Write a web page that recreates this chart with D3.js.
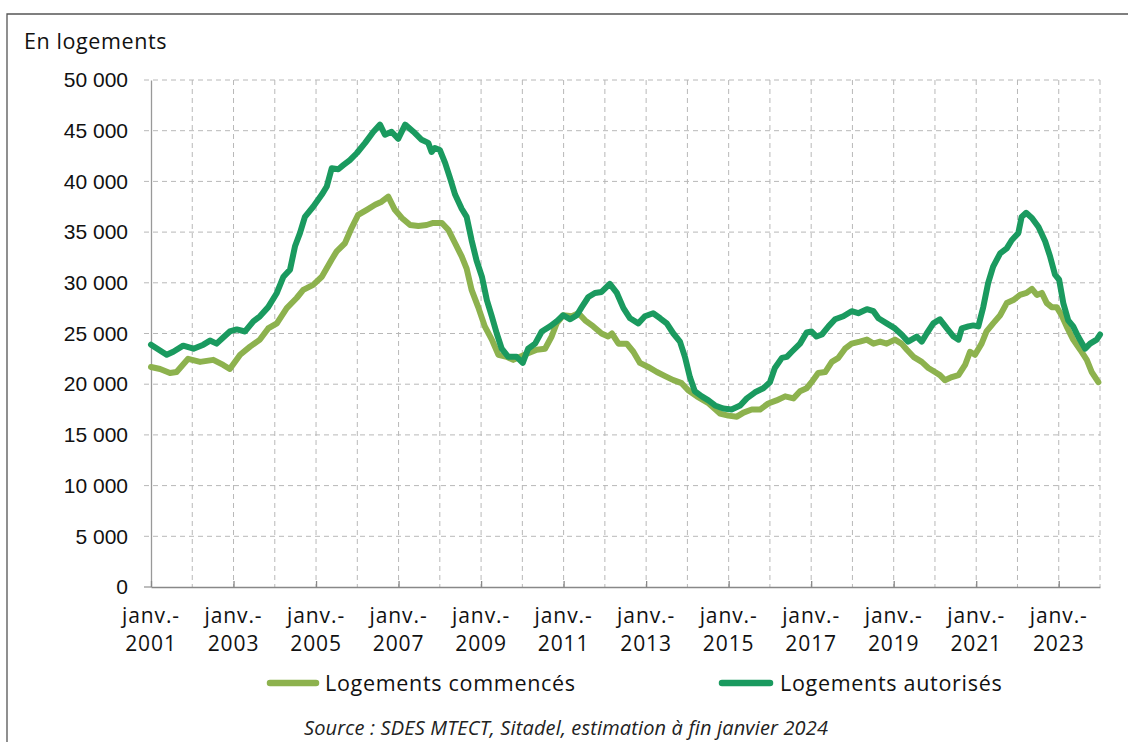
<!DOCTYPE html>
<html><head><meta charset="utf-8">
<script src="https://cdn.jsdelivr.net/npm/d3@7"></script>
<style>
html,body{margin:0;padding:0;background:#fff;}
svg{display:block;}
</style></head>
<body>
<svg id="chart" width="1128" height="742"></svg>
<script>
const yTicks = [0,5000,10000,15000,20000,25000,30000,35000,40000,45000,50000];
const xLabelYears = [2001,2003,2005,2007,2009,2011,2013,2015,2017,2019,2021,2023];
const seriesNames = ["Logements commencés","Logements autorisés"];
const seriesColors = ["#8db24e","#1a9a5f"];

const autorises = [
[2001.00,23900],[2001.38,22900],[2001.54,23200],[2001.78,23800],[2002.03,23500],[2002.27,23900],
[2002.43,24300],[2002.59,24000],[2002.75,24600],[2002.91,25200],[2003.08,25400],[2003.28,25200],
[2003.48,26200],[2003.64,26700],[2003.84,27600],[2004.05,29000],[2004.21,30600],[2004.37,31300],
[2004.49,33600],[2004.61,34900],[2004.73,36500],[2004.93,37500],[2005.14,38700],[2005.26,39500],
[2005.38,41300],[2005.54,41200],[2005.66,41600],[2005.82,42100],[2005.99,42800],[2006.19,43800],
[2006.39,44900],[2006.55,45600],[2006.67,44600],[2006.83,44900],[2006.99,44200],[2007.16,45600],
[2007.36,44900],[2007.56,44100],[2007.72,43800],[2007.80,42900],[2007.88,43300],[2008.00,43100],
[2008.13,41800],[2008.25,40300],[2008.37,38700],[2008.53,37300],[2008.65,36500],[2008.77,34200],
[2008.89,32200],[2009.02,30600],[2009.14,28300],[2009.26,26700],[2009.38,25000],[2009.50,23500],
[2009.66,22700],[2009.86,22700],[2010.01,22100],[2010.14,23500],[2010.31,24000],[2010.47,25200],
[2010.67,25700],[2010.83,26200],[2010.99,26800],[2011.16,26400],[2011.32,26800],[2011.44,27600],
[2011.60,28600],[2011.76,29000],[2011.92,29100],[2012.12,29900],[2012.29,29000],[2012.45,27500],
[2012.61,26500],[2012.81,26000],[2012.97,26700],[2013.17,27000],[2013.34,26500],[2013.50,26000],
[2013.66,25000],[2013.82,24200],[2013.94,22700],[2014.06,20700],[2014.18,19300],[2014.35,18800],
[2014.51,18400],[2014.67,17900],[2014.87,17600],[2015.07,17500],[2015.28,17900],[2015.44,18600],
[2015.64,19200],[2015.84,19600],[2016.00,20200],[2016.12,21600],[2016.29,22600],[2016.41,22700],
[2016.53,23200],[2016.73,24000],[2016.89,25100],[2017.01,25200],[2017.13,24700],[2017.26,24900],
[2017.42,25700],[2017.58,26400],[2017.78,26700],[2017.98,27200],[2018.14,27000],[2018.35,27400],
[2018.51,27200],[2018.63,26500],[2018.83,26000],[2019.03,25500],[2019.19,24900],[2019.35,24200],
[2019.56,24700],[2019.68,24200],[2019.80,25000],[2019.96,26000],[2020.12,26400],[2020.29,25500],
[2020.45,24700],[2020.57,24400],[2020.65,25500],[2020.81,25700],[2020.93,25800],[2021.05,25700],
[2021.17,27600],[2021.29,30000],[2021.41,31600],[2021.58,32900],[2021.74,33400],[2021.86,34200],
[2022.02,34900],[2022.10,36500],[2022.21,36900],[2022.35,36400],[2022.51,35500],[2022.67,34100],
[2022.79,32600],[2022.91,30800],[2023.01,30300],[2023.11,28000],[2023.23,26300],[2023.35,25700],
[2023.47,24700],[2023.64,23500],[2023.76,24000],[2023.92,24400],[2024.00,24900]
];

const commences = [
[2001.00,21700],[2001.22,21500],[2001.46,21100],[2001.62,21200],[2001.90,22500],[2002.19,22200],
[2002.51,22400],[2002.75,21900],[2002.91,21500],[2003.16,22900],[2003.40,23700],[2003.64,24400],
[2003.84,25500],[2004.05,26000],[2004.29,27500],[2004.53,28500],[2004.69,29300],[2004.93,29800],
[2005.14,30600],[2005.38,32300],[2005.50,33100],[2005.70,33900],[2005.86,35400],[2006.02,36700],
[2006.23,37200],[2006.43,37700],[2006.59,38000],[2006.75,38500],[2006.91,37200],[2007.08,36400],
[2007.28,35700],[2007.48,35600],[2007.68,35700],[2007.84,35900],[2008.05,35900],[2008.21,35200],
[2008.37,33900],[2008.53,32600],[2008.65,31400],[2008.77,29300],[2008.93,27600],[2009.09,25700],
[2009.26,24400],[2009.42,22900],[2009.62,22700],[2009.78,22400],[2010.11,23000],[2010.35,23400],
[2010.55,23500],[2010.71,24700],[2010.83,26000],[2010.99,26800],[2011.20,26700],[2011.36,27000],
[2011.52,26300],[2011.72,25700],[2011.92,25000],[2012.08,24700],[2012.17,25000],[2012.33,24000],
[2012.53,24000],[2012.69,23200],[2012.85,22100],[2013.05,21700],[2013.26,21200],[2013.46,20800],
[2013.66,20400],[2013.86,20100],[2014.02,19400],[2014.23,18800],[2014.52,18100],[2014.79,17100],
[2014.99,16900],[2015.20,16800],[2015.36,17200],[2015.56,17500],[2015.76,17500],[2015.96,18100],
[2016.16,18400],[2016.37,18800],[2016.57,18600],[2016.73,19300],[2016.89,19600],[2017.01,20200],
[2017.17,21100],[2017.34,21200],[2017.50,22200],[2017.66,22600],[2017.82,23500],[2017.98,24000],
[2018.18,24200],[2018.35,24400],[2018.51,24000],[2018.67,24200],[2018.83,24000],[2019.03,24400],
[2019.19,24000],[2019.32,23400],[2019.48,22700],[2019.68,22200],[2019.84,21600],[2020.00,21200],
[2020.12,20900],[2020.24,20400],[2020.41,20700],[2020.57,20900],[2020.73,21900],[2020.85,23200],
[2020.97,22900],[2021.13,24000],[2021.25,25200],[2021.41,26000],[2021.58,26800],[2021.74,28000],
[2021.90,28300],[2022.06,28800],[2022.22,29000],[2022.35,29400],[2022.47,28800],[2022.59,29000],
[2022.71,28000],[2022.83,27600],[2022.95,27600],[2023.07,26800],[2023.19,25700],[2023.35,24400],
[2023.52,23400],[2023.68,22400],[2023.80,21200],[2023.96,20200]
];

const svg = d3.select("#chart");
const L = 151, R = 1100, T = 80, B = 587;
const x = d3.scaleLinear().domain([2001, 2024]).range([L, R]);
const y = d3.scaleLinear().domain([0, 50000]).range([B, T]);
const loc = d3.formatLocale({decimal: ",", thousands: "\u00a0", grouping: [3], currency: ["", " €"]});
const fmt = loc.format(",d");
const humanist = "'Open Sans', sans-serif";

// frame
svg.append("path").attr("d", "M7,760 L7,14 L1140,14")
  .attr("fill", "none").attr("stroke", "#555").attr("stroke-width", 1.3);

// title
svg.append("text").attr("x", 24).attr("y", 49)
  .attr("font-family", humanist).attr("font-size", 21.5).attr("letter-spacing", 0.6).attr("fill", "#111")
  .text("En logements");

// horizontal grid
svg.append("g").selectAll("line").data(yTicks.filter(d => d > 0)).join("line")
  .attr("x1", 144).attr("x2", R).attr("y1", d => y(d)).attr("y2", d => y(d))
  .attr("stroke", "#b8b8b8").attr("stroke-width", 1).attr("stroke-dasharray", "5,4");

// vertical grid (every year)
const years = d3.range(2002, 2025);
svg.append("g").selectAll("line").data(years).join("line")
  .attr("x1", d => x(d)).attr("x2", d => x(d)).attr("y1", T).attr("y2", B)
  .attr("stroke", "#b8b8b8").attr("stroke-width", 1).attr("stroke-dasharray", "5,4");

// y axis
const yAxis = d3.axisLeft(y).tickValues(yTicks).tickFormat(fmt).tickSize(0).tickPadding(23);
const gya = svg.append("g").attr("transform", `translate(${L},0)`).call(yAxis);
gya.select(".domain").attr("stroke", "#999").attr("stroke-width", 1.3);
gya.selectAll("text").attr("font-family", "'Liberation Sans', Arial, sans-serif")
  .attr("font-size", 21).attr("fill", "#111");
svg.append("line").attr("x1", 144).attr("x2", L).attr("y1", B).attr("y2", B)
  .attr("stroke", "#999").attr("stroke-width", 1.3);

// x axis
const xAxis = d3.axisBottom(x).tickValues(xLabelYears).tickSizeInner(-6).tickSizeOuter(0).tickFormat("");
const gxa = svg.append("g").attr("transform", `translate(0,${B})`).call(xAxis);
gxa.select(".domain").attr("stroke", "#888").attr("stroke-width", 1.3);
gxa.selectAll(".tick line").attr("stroke", "#888").attr("stroke-width", 1.3);
const xl = svg.append("g").selectAll("text").data(xLabelYears).join("text")
  .attr("x", d => x(d)).attr("text-anchor", "middle")
  .attr("font-family", humanist).attr("font-size", 21).attr("letter-spacing", 0.9).attr("fill", "#111");
xl.append("tspan").attr("x", d => x(d)).attr("y", 623).text("janv.-");
xl.append("tspan").attr("x", d => x(d)).attr("y", 651).text(d => d);

// lines
const line = d3.line().x(d => x(d[0])).y(d => y(d[1])).curve(d3.curveLinear);
[commences, autorises].forEach((s, i) => {
  svg.append("path").datum(s).attr("d", line)
    .attr("fill", "none").attr("stroke", seriesColors[i]).attr("stroke-width", 6)
    .attr("stroke-linejoin", "round").attr("stroke-linecap", "round");
});

// legend
const legendPos = [{x1: 270, x2: 316, tx: 325}, {x1: 722, x2: 770, tx: 780}];
seriesNames.forEach((n, i) => {
  const p = legendPos[i];
  svg.append("line").attr("x1", p.x1).attr("x2", p.x2).attr("y1", 683).attr("y2", 683)
    .attr("stroke", seriesColors[i]).attr("stroke-width", 6.5).attr("stroke-linecap", "round");
  svg.append("text").attr("x", p.tx).attr("y", 690.5)
    .attr("font-family", humanist).attr("font-size", 21.5).attr("letter-spacing", 0.7).attr("fill", "#111").text(n);
});

// source
svg.append("text").attr("x", 566).attr("y", 735).attr("text-anchor", "middle")
  .attr("font-family", humanist).attr("font-style", "italic")
  .attr("font-size", 20).attr("letter-spacing", 0.15).attr("fill", "#222")
  .text("Source : SDES MTECT, Sitadel, estimation à fin janvier 2024");
</script>
</body></html>
